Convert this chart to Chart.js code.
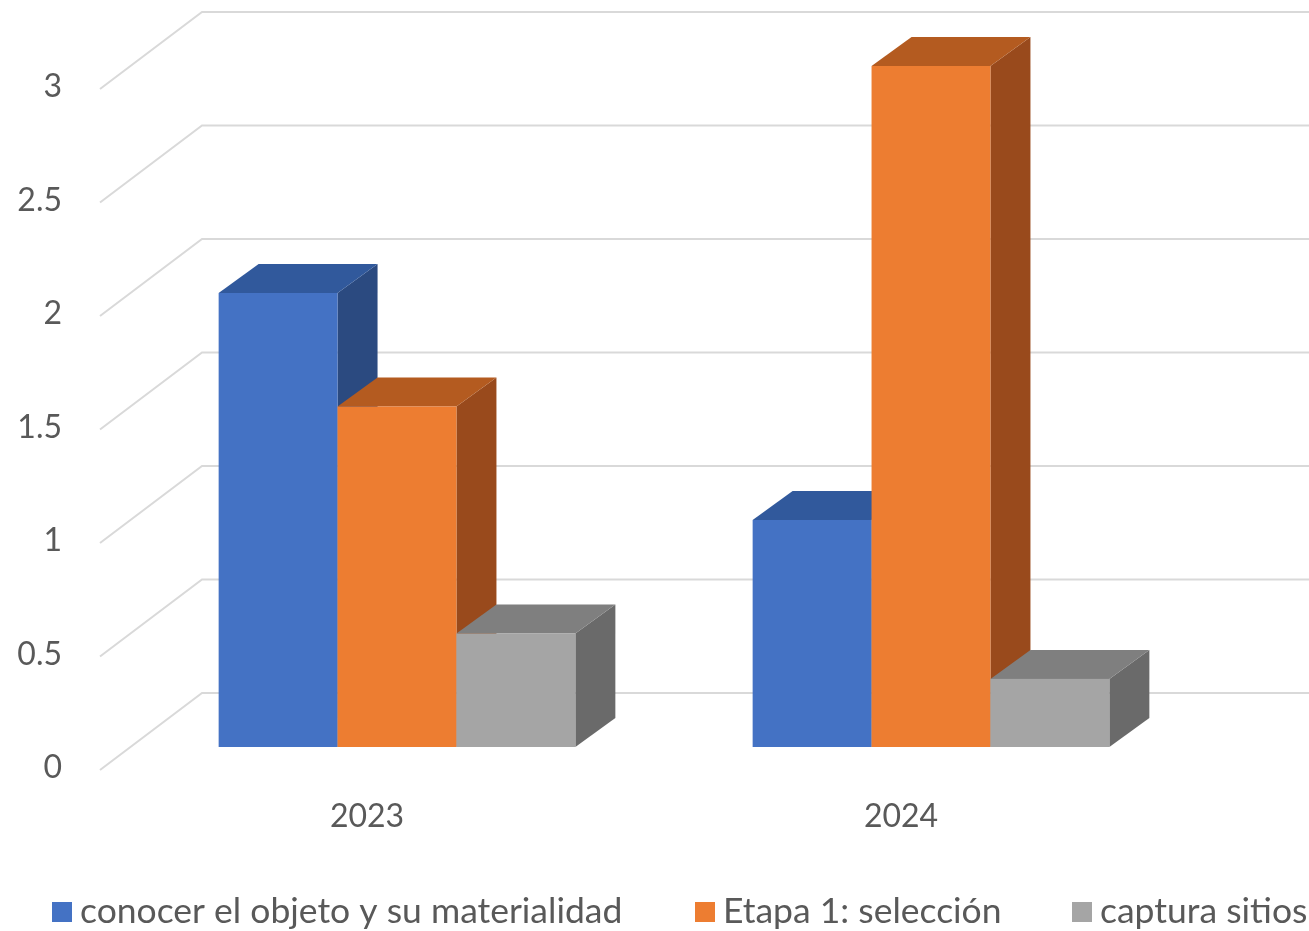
<!DOCTYPE html>
<html>
<head>
<meta charset="utf-8">
<script src="https://cdn.jsdelivr.net/npm/chart.js@4.4.1/dist/chart.umd.min.js"></script>
<style>
  html, body { margin: 0; padding: 0; background: #fff; }
  #chart { display: block; }
</style>
</head>
<body>
<canvas id="chart" width="1309" height="931"></canvas>
<script>
const years = ['2023', '2024'];
const conocer = [2, 1];
const etapa1 = [1.5, 3];
const captura = [0.5, 0.3];
const seriesNames = ['conocer el objeto y su materialidad', 'Etapa 1: selección', 'captura sitios'];

// front, top, side colours for each series
const faces = [
  ['#4472C4', '#31599C', '#2B4A80'],
  ['#ED7D31', '#B45B20', '#994A1C'],
  ['#A5A5A5', '#7F7F7F', '#6A6A6A']
];

const FONT = 'Lato, "Open Sans", sans-serif';
const DX = 40, DY = 29;          // box depth
const WALL_DX = 102, FLOOR_DY = 23, WALL_DY = 54;

const box3d = {
  id: 'box3d',
  beforeDatasetsDraw(chart) {
    const {ctx, chartArea} = chart;
    const y = chart.scales.y;
    // side wall diagonals + back wall lines
    ctx.save();
    ctx.strokeStyle = '#D9D9D9';
    ctx.lineWidth = 2;
    y.ticks.forEach(t => {
      const p = y.getPixelForValue(t.value);
      const x0 = chartArea.left - 30;
      ctx.beginPath();
      ctx.moveTo(x0, p + FLOOR_DY);
      ctx.lineTo(x0 + WALL_DX, p - WALL_DY);
      ctx.lineTo(chart.width, p - WALL_DY);
      ctx.stroke();
    });
    ctx.restore();

    // boxes, category by category, left to right
    const n = chart.data.labels.length;
    for (let c = 0; c < n; c++) {
      chart.data.datasets.forEach((ds, i) => {
        const bar = chart.getDatasetMeta(i).data[c];
        const l = bar.x - bar.width / 2, r = bar.x + bar.width / 2;
        const top = bar.y, base = bar.base;
        const [front, topC, side] = faces[i];
        ctx.save();
        ctx.fillStyle = side;
        ctx.beginPath();
        ctx.moveTo(r, top);
        ctx.lineTo(r + DX, top - DY);
        ctx.lineTo(r + DX, base - DY);
        ctx.lineTo(r, base);
        ctx.closePath();
        ctx.fill();
        ctx.fillStyle = topC;
        ctx.beginPath();
        ctx.moveTo(l, top);
        ctx.lineTo(l + DX, top - DY);
        ctx.lineTo(r + DX, top - DY);
        ctx.lineTo(r, top);
        ctx.closePath();
        ctx.fill();
        ctx.fillStyle = front;
        ctx.fillRect(l, top, r - l, base - top);
        ctx.restore();
      });
    }
    return false;
  },
  afterDraw(chart) {
    const {ctx} = chart;
    const starts = [52, 695, 1072];
    ctx.save();
    ctx.font = '35.5px ' + FONT;
    ctx.textBaseline = 'middle';
    chart.data.datasets.forEach((ds, i) => {
      ctx.fillStyle = faces[i][0];
      ctx.fillRect(starts[i], 902, 20, 20);
      ctx.fillStyle = '#595959';
      ctx.fillText(ds.label, starts[i] + 28, 912);
    });
    ctx.restore();
  }
};

new Chart(document.getElementById('chart'), {
  type: 'bar',
  data: {
    labels: years,
    datasets: [
      {label: seriesNames[0], data: conocer, backgroundColor: faces[0][0]},
      {label: seriesNames[1], data: etapa1, backgroundColor: faces[1][0]},
      {label: seriesNames[2], data: captura, backgroundColor: faces[2][0]}
    ]
  },
  options: {
    responsive: false,
    animation: false,
    devicePixelRatio: 1,
    categoryPercentage: 0.668,
    barPercentage: 1,
    layout: {padding: {top: 66, right: 111, left: 0, bottom: 0}},
    scales: {
      x: {
        grid: {display: false, drawTicks: false},
        border: {display: false},
        ticks: {color: '#595959', font: {size: 32, family: FONT}, padding: 50, labelOffset: -30},
        afterFit(scale) { scale.height = 184; }
      },
      y: {
        min: 0,
        max: 3,
        grid: {display: false, drawTicks: false},
        border: {display: false},
        ticks: {
          stepSize: 0.5, color: '#595959', font: {size: 32, family: FONT}, padding: 68, labelOffset: 21,
          callback: v => String(v)
        },
        afterFit(scale) {
          scale.width = 130;
          scale.paddingTop = 0;
          scale.paddingBottom = 0;
        }
      }
    },
    plugins: {
      legend: {display: false},
      tooltip: {enabled: false}
    }
  },
  plugins: [box3d]
});
</script>
</body>
</html>
